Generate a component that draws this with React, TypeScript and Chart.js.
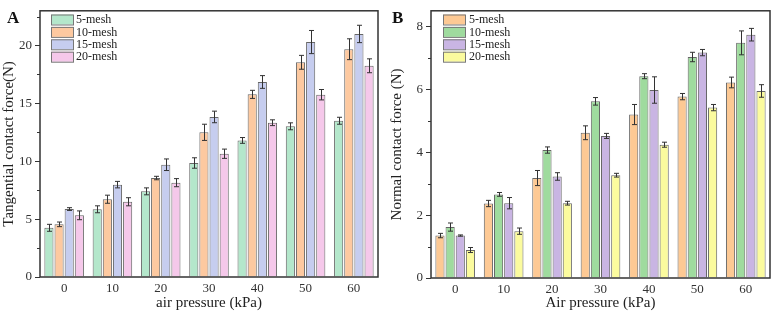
import React, { useEffect, useRef } from "react";
import { Chart, registerables } from "chart.js";
Chart.register(...registerables);

const categories = ["0", "10", "20", "30", "40", "50", "60"];
const meshLabels = ["5-mesh", "10-mesh", "15-mesh", "20-mesh"];

// Panel A: tangential contact force (N)
const tang5 = [4.25, 5.85, 7.4, 9.85, 11.8, 13.02, 13.5];
const tang10 = [4.55, 6.72, 8.55, 12.5, 15.78, 18.55, 19.68];
const tang15 = [5.87, 7.98, 9.7, 13.83, 16.85, 20.3, 21.0];
const tang20 = [5.33, 6.5, 8.15, 10.65, 13.33, 15.75, 18.25];
const tangErr5 = [0.3, 0.3, 0.3, 0.45, 0.25, 0.3, 0.3];
const tangErr10 = [0.2, 0.35, 0.15, 0.7, 0.35, 0.6, 0.9];
const tangErr15 = [0.12, 0.28, 0.5, 0.5, 0.55, 1.0, 0.75];
const tangErr20 = [0.38, 0.35, 0.35, 0.4, 0.25, 0.45, 0.6];

// Panel B: normal contact force (N)
const norm5 = [1.35, 2.37, 3.18, 4.62, 5.2, 5.77, 6.22];
const norm10 = [1.62, 2.66, 4.07, 5.62, 6.42, 7.03, 7.48];
const norm15 = [1.35, 2.38, 3.23, 4.52, 5.98, 7.17, 7.74];
const norm20 = [0.89, 1.49, 2.38, 3.27, 4.24, 5.42, 5.95];
const normErr5 = [0.07, 0.1, 0.24, 0.22, 0.32, 0.1, 0.17];
const normErr10 = [0.13, 0.06, 0.1, 0.12, 0.08, 0.15, 0.38];
const normErr15 = [0.02, 0.18, 0.12, 0.08, 0.42, 0.1, 0.2];
const normErr20 = [0.08, 0.1, 0.06, 0.06, 0.08, 0.1, 0.2];

const colorsA = ["#b4e7cb", "#fdc9a0", "#c6cdef", "#f5c8ea"];
const colorsB = ["#fdc994", "#9fdb9e", "#c9b5e3", "#fbfb9e"];

const SERIF = "'Liberation Serif', 'DejaVu Serif', serif";

type PanelProps = {
  letter: string;
  values: number[][];
  errors: number[][];
  colors: string[];
  yMax: number;
  step: number;
  yTitle: string;
  xTitle: string;
  leftW: number;
  rightPad: number;
  bottomH: number;
  legendX: number;
  textX: number;
  letterX: number;
};

function Panel(p: PanelProps) {
  const ref = useRef<HTMLCanvasElement | null>(null);
  useEffect(() => {
    if (!ref.current) return;
    const errPlugin = {
      id: "errbars",
      afterDatasetsDraw(chart: any) {
        const ctx = chart.ctx;
        const ys = chart.scales.y;
        ctx.save();
        ctx.strokeStyle = "#333";
        ctx.lineWidth = 1;
        p.values.forEach((vals, i) => {
          const meta = chart.getDatasetMeta(i);
          meta.data.forEach((el: any, j: number) => {
            const v = vals[j];
            const e = p.errors[i][j];
            const x = Math.round(el.x) + 0.5;
            const y1 = ys.getPixelForValue(v + e);
            const y2 = ys.getPixelForValue(v - e);
            ctx.beginPath();
            ctx.moveTo(x, y1);
            ctx.lineTo(x, y2);
            ctx.moveTo(x - 2.5, y1);
            ctx.lineTo(x + 2.5, y1);
            ctx.moveTo(x - 2.5, y2);
            ctx.lineTo(x + 2.5, y2);
            ctx.stroke();
          });
        });
        ctx.restore();
      },
    };
    const framePlugin = {
      id: "frame",
      afterDraw(chart: any) {
        const ctx = chart.ctx;
        const a = chart.chartArea;
        const ys = chart.scales.y;
        ctx.save();
        ctx.strokeStyle = "#333";
        ctx.lineWidth = 1.5;
        ctx.strokeRect(a.left, a.top, a.right - a.left, a.bottom - a.top);
        // minor ticks
        ctx.lineWidth = 1;
        for (let v = p.step / 2; v < p.yMax; v += p.step) {
          const y = Math.round(ys.getPixelForValue(v)) + 0.5;
          ctx.beginPath();
          ctx.moveTo(a.left - 3, y);
          ctx.lineTo(a.left, y);
          ctx.stroke();
        }
        // legend
        const rowH = 12.4;
        ctx.font = "12px " + SERIF;
        ctx.textBaseline = "middle";
        ctx.textAlign = "left";
        p.values.forEach((_, i) => {
          const cy = 19.5 + i * rowH;
          ctx.fillStyle = p.colors[i];
          ctx.fillRect(p.legendX, cy - 5, 22, 10);
          ctx.strokeStyle = "#777";
          ctx.strokeRect(p.legendX + 0.5, cy - 4.5, 22, 10);
          ctx.fillStyle = "#222";
          ctx.fillText(meshLabels[i], p.textX, cy + 0.5);
        });
        // panel letter
        ctx.font = "bold 17px " + SERIF;
        ctx.fillStyle = "#111";
        ctx.fillText(p.letter, p.letterX, 19);
        ctx.restore();
      },
    };
    const chart = new Chart(ref.current, {
      type: "bar",
      data: {
        labels: categories,
        datasets: p.values.map((vals, i) => ({
          label: meshLabels[i],
          data: vals,
          backgroundColor: p.colors[i],
          borderColor: "#666",
          borderWidth: 1,
          categoryPercentage: 0.84,
          barPercentage: 0.9,
        })),
      },
      options: {
        animation: false,
        responsive: false,
        maintainAspectRatio: false,
        layout: { padding: { top: 5, right: p.rightPad, left: 0, bottom: 0 } },
        plugins: { legend: { display: false }, tooltip: { enabled: false } },
        scales: {
          x: {
            grid: { display: false, drawTicks: false },
            border: { display: false },
            ticks: { font: { family: SERIF, size: 13 }, color: "#333", padding: 4 },
            title: {
              display: true,
              text: p.xTitle,
              font: { family: SERIF, size: 15 },
              color: "#222",
              padding: { top: 0, bottom: 2 },
            },
            afterFit: (s: any) => {
              s.height = p.bottomH;
            },
          },
          y: {
            min: 0,
            max: p.yMax,
            grid: { drawOnChartArea: false, drawTicks: true, tickLength: 5, color: "#333" },
            border: { display: false },
            afterBuildTicks: (s: any) => {
              s.ticks = s.ticks.filter((t: any) => Math.abs(t.value / p.step - Math.round(t.value / p.step)) < 1e-6);
            },
            ticks: {
              stepSize: p.step,
              font: { family: SERIF, size: 13 },
              color: "#333",
              padding: 3,
            },
            title: {
              display: true,
              text: p.yTitle,
              font: { family: SERIF, size: 15 },
              color: "#222",
              padding: { top: 0, bottom: 0 },
            },
            afterFit: (s: any) => {
              s.width = p.leftW;
            },
          },
        },
      },
      plugins: [errPlugin, framePlugin],
    });
    return () => chart.destroy();
  }, []);
  return <canvas ref={ref} width={388} height={314} style={{ display: "block", width: 388, height: 314 }} />;
}

export default function App() {
  return (
    <div style={{ position: "fixed", left: 0, top: 0, width: 776, height: 314, display: "flex", background: "#fff" }}>
      <Panel
        letter="A"
        values={[tang5, tang10, tang15, tang20]}
        errors={[tangErr5, tangErr10, tangErr15, tangErr20]}
        colors={colorsA}
        yMax={23}
        step={5}
        yTitle="Tangential contact force(N)"
        xTitle="air pressure (kPa)"
        leftW={40}
        rightPad={10}
        bottomH={37}
        legendX={51}
        textX={76}
        letterX={7}
      />
      <Panel
        letter="B"
        values={[norm5, norm10, norm15, norm20]}
        errors={[normErr5, normErr10, normErr15, normErr20]}
        colors={colorsB}
        yMax={8.5}
        step={2}
        yTitle="Normal contact force (N)"
        xTitle="Air pressure (kPa)"
        leftW={43}
        rightPad={6}
        bottomH={36}
        legendX={55}
        textX={81}
        letterX={4}
      />
    </div>
  );
}
